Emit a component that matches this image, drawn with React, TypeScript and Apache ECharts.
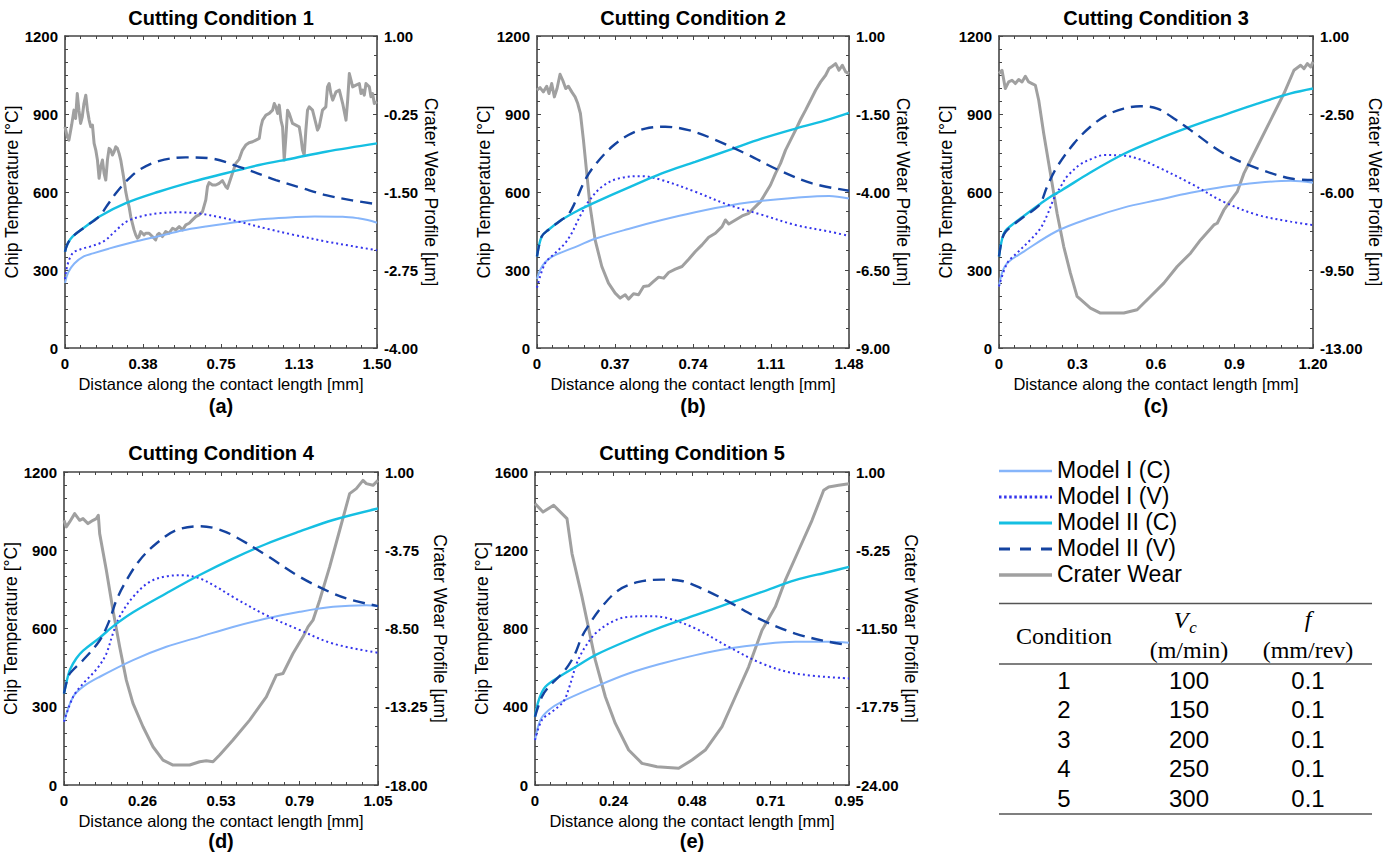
import React, { useEffect, useRef } from "react";
import * as echarts from "echarts";

type Pt = [number, number];

// ---------------- Panel (a): Cutting Condition 1 ----------------
const c1ModelIC: Pt[] = [[0, 250], [0.015, 290], [0.045, 325], [0.09, 352], [0.135, 364], [0.21, 382], [0.33, 408], [0.45, 430], [0.564, 452], [0.675, 467], [0.84, 486], [0.975, 497], [1.095, 503], [1.2, 506], [1.335, 505], [1.41, 499], [1.455, 492], [1.5, 482]];
const c1ModelIV: Pt[] = [[0, 265], [0.012, 320], [0.0375, 365], [0.075, 380], [0.12, 390], [0.165, 402], [0.195, 415], [0.225, 437], [0.2625, 465], [0.3, 488], [0.375, 508], [0.45, 518], [0.54, 522], [0.645, 517], [0.75, 502], [0.84, 485], [0.975, 458], [1.095, 436], [1.26, 409], [1.38, 392], [1.5, 376]];
const c1ModelIIC: Pt[] = [[0, 370], [0.012, 400], [0.036, 428], [0.099, 467], [0.1635, 505], [0.2925, 557], [0.45, 601], [0.615, 640], [0.7725, 672], [0.933, 704], [1.0935, 729], [1.254, 755], [1.5, 787]];
const c1ModelIIV: Pt[] = [[0, 370], [0.012, 400], [0.036, 428], [0.099, 467], [0.1635, 505], [0.2025, 548], [0.2445, 595], [0.2925, 640], [0.3555, 684], [0.45, 719], [0.5805, 733], [0.693, 730], [0.837, 697], [1.014, 646], [1.14, 615], [1.254, 588], [1.38, 568], [1.5, 553]];
const c1Crater: Pt[] = [[0, -0.455], [0.011, -0.615], [0.019, -0.668], [0.032, -0.428], [0.043, -0.188], [0.051, -0.321], [0.059, 0.078], [0.067, -0.188], [0.075, -0.401], [0.083, -0.295], [0.091, -0.082], [0.1, 0.052], [0.108, -0.188], [0.116, -0.348], [0.124, -0.455], [0.132, -0.428], [0.14, -0.721], [0.148, -0.828], [0.156, -0.988], [0.164, -1.281], [0.172, -1.094], [0.18, -0.988], [0.188, -1.201], [0.196, -1.308], [0.204, -0.988], [0.212, -0.801], [0.22, -0.828], [0.228, -0.908], [0.236, -0.855], [0.244, -0.775], [0.252, -0.801], [0.26, -0.881], [0.268, -0.988], [0.276, -1.148], [0.284, -1.308], [0.292, -1.494], [0.3, -1.627], [0.308, -1.734], [0.316, -1.894], [0.324, -2.001], [0.332, -2.107], [0.34, -2.187], [0.348, -2.24], [0.356, -2.214], [0.364, -2.134], [0.372, -2.161], [0.38, -2.187], [0.388, -2.161], [0.404, -2.161], [0.42, -2.214], [0.436, -2.267], [0.444, -2.187], [0.452, -2.161], [0.468, -2.214], [0.484, -2.134], [0.5, -2.161], [0.517, -2.081], [0.533, -2.107], [0.549, -2.054], [0.565, -2.107], [0.581, -2.027], [0.597, -2.001], [0.613, -1.947], [0.629, -1.894], [0.645, -1.867], [0.661, -1.814], [0.677, -1.627], [0.685, -1.414], [0.693, -1.35], [0.709, -1.388], [0.725, -1.388], [0.741, -1.361], [0.757, -1.318], [0.773, -1.414], [0.781, -1.441], [0.789, -1.361], [0.805, -1.201], [0.821, -1.041], [0.837, -0.977], [0.853, -0.828], [0.869, -0.748], [0.885, -0.711], [0.902, -0.695], [0.918, -0.668], [0.934, -0.641], [0.942, -0.455], [0.95, -0.348], [0.966, -0.268], [0.982, -0.241], [0.998, -0.188], [1.006, -0.082], [1.014, -0.135], [1.022, -0.241], [1.03, -0.108], [1.038, -0.348], [1.046, -0.455], [1.054, -0.988], [1.062, -0.615], [1.07, -0.188], [1.078, -0.241], [1.094, -0.401], [1.11, -0.428], [1.126, -0.455], [1.134, -0.615], [1.142, -0.828], [1.15, -0.908], [1.158, -0.508], [1.166, -0.188], [1.174, -0.135], [1.19, -0.188], [1.206, -0.401], [1.214, -0.508], [1.222, -0.455], [1.238, -0.188], [1.254, -0.135], [1.262, 0.185], [1.27, 0.238], [1.278, 0.078], [1.287, -0.028], [1.303, 0.105], [1.319, 0.132], [1.335, -0.082], [1.351, -0.348], [1.359, -0.028], [1.367, 0.398], [1.375, 0.292], [1.383, 0.185], [1.399, 0.212], [1.415, 0.238], [1.423, 0.078], [1.431, 0.132], [1.439, 0.052], [1.447, 0.238], [1.463, 0.185], [1.471, 0.025], [1.479, 0.078], [1.487, -0.082], [1.5, -0.055]];

// ---------------- Panel (b): Cutting Condition 2 ----------------
const c2ModelIC: Pt[] = [[0, 265], [0.0148, 300], [0.0385, 330], [0.074, 352], [0.1169, 368], [0.1924, 392], [0.2753, 420], [0.4336, 458], [0.592, 492], [0.7504, 522], [0.9265, 550], [1.0686, 566], [1.2269, 578], [1.3853, 585], [1.48, 575]];
const c2ModelIV: Pt[] = [[0, 232], [0.0385, 326], [0.0858, 365], [0.1332, 403], [0.1643, 441], [0.1865, 478], [0.2116, 518], [0.2442, 563], [0.3078, 620], [0.3863, 652], [0.4973, 661], [0.592, 646], [0.7504, 601], [0.9102, 550], [1.0686, 512], [1.2269, 473], [1.3853, 448], [1.48, 431]];
const c2ModelIIC: Pt[] = [[0, 352], [0.0222, 429], [0.0533, 454], [0.1169, 493], [0.1968, 530], [0.2753, 560], [0.4336, 617], [0.592, 672], [0.7504, 716], [0.9102, 761], [1.0686, 806], [1.2269, 844], [1.3853, 879], [1.48, 904]];
const c2ModelIIV: Pt[] = [[0, 352], [0.0222, 429], [0.0533, 454], [0.1169, 493], [0.148, 512], [0.1806, 560], [0.2279, 646], [0.2753, 704], [0.3552, 774], [0.4336, 819], [0.5136, 844], [0.6083, 851], [0.7193, 838], [0.8303, 806], [0.9886, 748], [1.147, 684], [1.3054, 633], [1.48, 605]];
const c2Crater: Pt[] = [[0, -0.738], [0.0143, -0.652], [0.0301, -0.791], [0.046, -0.61], [0.057, -0.844], [0.0697, -0.524], [0.0824, -0.951], [0.0951, -0.684], [0.1093, -0.226], [0.122, -0.418], [0.1363, -0.684], [0.149, -0.61], [0.1648, -0.791], [0.1807, -0.951], [0.1933, -1.164], [0.206, -1.484], [0.2203, -2.337], [0.2361, -3.403], [0.252, -4.469], [0.2757, -5.535], [0.3074, -6.388], [0.3391, -6.921], [0.3708, -7.241], [0.3946, -7.401], [0.4183, -7.294], [0.4342, -7.433], [0.4579, -7.262], [0.4817, -7.294], [0.5055, -7.028], [0.5293, -7.006], [0.553, -6.868], [0.5768, -6.729], [0.6006, -6.761], [0.6244, -6.58], [0.6561, -6.473], [0.6878, -6.388], [0.7195, -6.154], [0.7512, -5.908], [0.7828, -5.695], [0.8145, -5.45], [0.8462, -5.322], [0.8779, -5.109], [0.8938, -4.896], [0.9096, -5.023], [0.9413, -4.896], [0.973, -4.768], [1.0047, -4.682], [1.0363, -4.469], [1.0601, -4.309], [1.0839, -4.043], [1.1076, -3.776], [1.1314, -3.403], [1.1552, -3.083], [1.1789, -2.657], [1.2027, -2.337], [1.2265, -2.017], [1.2503, -1.676], [1.274, -1.377], [1.2978, -1.058], [1.3216, -0.738], [1.3453, -0.471], [1.3691, -0.258], [1.3849, -0.045], [1.4008, 0.03], [1.4166, 0.115], [1.4325, -0.098], [1.4483, 0.062], [1.4642, -0.151], [1.48, -0.205]];

// ---------------- Panel (c): Cutting Condition 3 ----------------
const c3ModelIC: Pt[] = [[0, 237], [0.012, 290], [0.0312, 326], [0.0948, 371], [0.222, 450], [0.3492, 500], [0.4764, 540], [0.6048, 569], [0.732, 597], [0.8592, 620], [0.9876, 636], [1.1148, 643], [1.2, 636]];
const c3ModelIV: Pt[] = [[0, 237], [0.0312, 326], [0.0684, 365], [0.12, 416], [0.1584, 460], [0.1836, 510], [0.21, 575], [0.24, 628], [0.2604, 660], [0.3108, 706], [0.36, 730], [0.4008, 742], [0.4764, 740], [0.54, 725], [0.6048, 697], [0.732, 633], [0.8592, 562], [0.9876, 512], [1.1148, 486], [1.2, 473]];
const c3ModelIIC: Pt[] = [[0, 352], [0.012, 420], [0.024, 450], [0.048, 472], [0.0948, 508], [0.1584, 555], [0.1968, 582], [0.24, 607], [0.3492, 675], [0.4764, 746], [0.6, 800], [0.732, 851], [0.8592, 896], [0.9876, 940], [1.1148, 979], [1.2, 998]];
const c3ModelIIV: Pt[] = [[0, 352], [0.012, 420], [0.024, 445], [0.048, 468], [0.0948, 505], [0.132, 531], [0.1584, 556], [0.1836, 620], [0.222, 697], [0.2868, 787], [0.3492, 851], [0.4128, 896], [0.4764, 921], [0.54, 930], [0.6048, 921], [0.6684, 883], [0.732, 838], [0.8592, 748], [0.9876, 691], [1.1148, 652], [1.2, 646]];
const c3Crater: Pt[] = [[0, -0.687], [0.0115, -0.537], [0.0242, -1.358], [0.037, -1.06], [0.0497, -0.985], [0.0625, -1.134], [0.0752, -0.955], [0.088, -1.06], [0.1007, -0.806], [0.1135, -1.06], [0.1262, -1.134], [0.139, -1.209], [0.1518, -1.881], [0.1709, -3.373], [0.1964, -5.164], [0.2219, -6.955], [0.2474, -8.448], [0.2729, -9.642], [0.2984, -10.687], [0.3494, -11.209], [0.3877, -11.433], [0.4769, -11.433], [0.5279, -11.284], [0.5789, -10.687], [0.63, -10.09], [0.681, -9.343], [0.732, -8.746], [0.7702, -8.149], [0.8212, -7.478], [0.834, -7.403], [0.8595, -6.806], [0.9105, -5.985], [0.936, -5.164], [0.987, -3.97], [1.038, -2.776], [1.089, -1.582], [1.1273, -0.537], [1.1528, -0.313], [1.1656, -0.463], [1.1783, -0.239], [1.1911, -0.388], [1.2, -0.164]];

// ---------------- Panel (d): Cutting Condition 4 ----------------
const c4ModelIC: Pt[] = [[0, 243], [0.0305, 338], [0.064, 377], [0.1197, 415], [0.231, 479], [0.3423, 530], [0.4536, 568], [0.5649, 606], [0.6762, 638], [0.7886, 664], [0.8999, 683], [1.0112, 689], [1.05, 685]];
const c4ModelIV: Pt[] = [[0, 243], [0.0305, 338], [0.064, 389], [0.0966, 428], [0.1197, 460], [0.1418, 504], [0.1638, 581], [0.1859, 645], [0.231, 721], [0.2867, 779], [0.3423, 800], [0.398, 804], [0.4536, 792], [0.5093, 760], [0.5649, 721], [0.6762, 651], [0.7886, 594], [0.8999, 542], [1.05, 507]];
const c4ModelIIC: Pt[] = [[0, 351], [0.0137, 420], [0.021, 445], [0.041, 485], [0.064, 515], [0.1197, 565], [0.1638, 608], [0.231, 662], [0.3423, 735], [0.4536, 805], [0.5649, 868], [0.6762, 924], [0.7886, 972], [0.8999, 1016], [1.05, 1060]];
const c4ModelIIV: Pt[] = [[0, 351], [0.0137, 415], [0.0252, 435], [0.064, 479], [0.1197, 555], [0.1523, 632], [0.1754, 709], [0.209, 785], [0.2531, 862], [0.3087, 926], [0.3759, 977], [0.4536, 992], [0.5093, 983], [0.5649, 957], [0.6762, 881], [0.7886, 798], [0.8999, 734], [0.966, 708], [1.05, 686]];
const c4Crater: Pt[] = [[0, -1.931], [0.0078, -2.335], [0.0189, -2.032], [0.0357, -1.527], [0.0524, -1.931], [0.0635, -1.83], [0.0803, -2.133], [0.097, -1.931], [0.1081, -1.83], [0.1148, -1.628], [0.1193, -2.74], [0.1416, -4.963], [0.1638, -7.389], [0.1861, -9.612], [0.2084, -11.634], [0.2307, -13.049], [0.2642, -14.464], [0.2976, -15.677], [0.331, -16.485], [0.3645, -16.788], [0.4202, -16.788], [0.4536, -16.586], [0.4759, -16.526], [0.4982, -16.586], [0.5205, -16.182], [0.5651, -15.272], [0.6208, -14.06], [0.6766, -12.645], [0.71, -11.331], [0.7323, -11.23], [0.7657, -10.017], [0.7992, -9.006], [0.8159, -8.4], [0.8326, -7.995], [0.8549, -6.783], [0.8883, -4.761], [0.9218, -2.537], [0.9552, -0.314], [0.9775, -0.011], [0.9998, 0.495], [1.011, 0.293], [1.0332, 0.191], [1.05, 0.495]];

// ---------------- Panel (e): Cutting Condition 5 ----------------
const c5ModelIC: Pt[] = [[0, 230], [0.0162, 332], [0.0418, 383], [0.0817, 426], [0.1824, 502], [0.2831, 570], [0.3838, 621], [0.4855, 664], [0.5862, 698], [0.6869, 720], [0.7876, 732], [0.8883, 732], [0.95, 727]];
const c5ModelIV: Pt[] = [[0, 230], [0.0209, 332], [0.0513, 374], [0.0817, 417], [0.0922, 445], [0.1017, 490], [0.1121, 545], [0.1216, 600], [0.133, 648], [0.152, 706], [0.1824, 774], [0.2328, 834], [0.2831, 860], [0.3544, 863], [0.4047, 851], [0.4855, 800], [0.5862, 706], [0.6869, 621], [0.7876, 570], [0.95, 545]];
const c5ModelIIC: Pt[] = [[0, 349], [0.0114, 434], [0.0314, 502], [0.0817, 562], [0.1321, 613], [0.1824, 664], [0.2831, 740], [0.3838, 808], [0.4855, 868], [0.5862, 928], [0.6869, 987], [0.7876, 1047], [0.8883, 1089], [0.95, 1115]];
const c5ModelIIV: Pt[] = [[0, 349], [0.0209, 451], [0.0418, 502], [0.0817, 570], [0.1017, 613], [0.1216, 672], [0.1416, 757], [0.1625, 817], [0.2024, 911], [0.2527, 996], [0.3135, 1038], [0.3838, 1050], [0.4446, 1043], [0.5054, 1004], [0.5862, 936], [0.6869, 843], [0.7876, 774], [0.8883, 732], [0.95, 715]];
const c5Crater: Pt[] = [[0, -1.527], [0.0242, -2.191], [0.0565, -1.66], [0.0968, -2.723], [0.1119, -5.516], [0.1422, -8.973], [0.1825, -14.027], [0.2128, -16.952], [0.243, -19.08], [0.2834, -21.207], [0.3237, -22.271], [0.3691, -22.537], [0.4347, -22.67], [0.475, -22.005], [0.5153, -21.207], [0.5658, -19.346], [0.6061, -16.952], [0.6465, -14.559], [0.6868, -11.633], [0.7271, -9.771], [0.7574, -7.644], [0.7977, -5.25], [0.8381, -2.856], [0.8734, -0.463], [0.8885, -0.197], [0.9187, -0.064], [0.95, 0.069]];

// ---------------- Axes / labels ----------------
const panelTitles = ["Cutting Condition 1", "Cutting Condition 2", "Cutting Condition 3", "Cutting Condition 4", "Cutting Condition 5"];
const panelCaptions = ["(a)", "(b)", "(c)", "(d)", "(e)"];
const xMaxes = [1.5, 1.48, 1.2, 1.05, 0.95];
const xTickLabels = [
  ["0", "0.38", "0.75", "1.13", "1.50"],
  ["0", "0.37", "0.74", "1.11", "1.48"],
  ["0", "0.3", "0.6", "0.9", "1.20"],
  ["0", "0.26", "0.53", "0.79", "1.05"],
  ["0", "0.24", "0.48", "0.71", "0.95"],
];
const tempMaxes = [1200, 1200, 1200, 1200, 1600];
const tempTickLabels = [
  ["0", "300", "600", "900", "1200"],
  ["0", "300", "600", "900", "1200"],
  ["0", "300", "600", "900", "1200"],
  ["0", "300", "600", "900", "1200"],
  ["0", "400", "800", "1200", "1600"],
];
const wearMax = 1;
const wearMins = [-4, -9, -13, -18, -24];
const wearTickLabels = [
  ["-4.00", "-2.75", "-1.50", "-0.25", "1.00"],
  ["-9.00", "-6.50", "-4.00", "-1.50", "1.00"],
  ["-13.00", "-9.50", "-6.00", "-2.50", "1.00"],
  ["-18.00", "-13.25", "-8.50", "-3.75", "1.00"],
  ["-24.00", "-17.75", "-11.50", "-5.25", "1.00"],
];
const xAxisTitle = "Distance along the contact length [mm]";
const leftAxisTitle = "Chip Temperature [°C]";
const rightAxisTitle = "Crater Wear Profile [µm]";
const seriesNames = ["Model I (C)", "Model I (V)", "Model II (C)", "Model II (V)", "Crater Wear"];

// ---------------- Table ----------------
const tableConditions = ["1", "2", "3", "4", "5"];
const tableVc = ["100", "150", "200", "250", "300"];
const tableFeed = ["0.1", "0.1", "0.1", "0.1", "0.1"];

const modelData: Pt[][][] = [
  [c1ModelIC, c1ModelIV, c1ModelIIC, c1ModelIIV],
  [c2ModelIC, c2ModelIV, c2ModelIIC, c2ModelIIV],
  [c3ModelIC, c3ModelIV, c3ModelIIC, c3ModelIIV],
  [c4ModelIC, c4ModelIV, c4ModelIIC, c4ModelIIV],
  [c5ModelIC, c5ModelIV, c5ModelIIC, c5ModelIIV],
];
const craterData: Pt[][] = [c1Crater, c2Crater, c3Crater, c4Crater, c5Crater];

// ---------------- Layout & style ----------------
const LAYOUT = [
  { left: 65, top: 36, width: 312, height: 312, titleY: 18, captionY: 406 },
  { left: 537, top: 36, width: 312, height: 312, titleY: 18, captionY: 406 },
  { left: 999, top: 36, width: 314, height: 312, titleY: 18, captionY: 406 },
  { left: 64, top: 472, width: 314, height: 313, titleY: 453, captionY: 841 },
  { left: 535, top: 472, width: 314, height: 313, titleY: 453, captionY: 841 },
];
const SANS = "'Liberation Sans', Arial, Helvetica, sans-serif";
const SERIF = "'Liberation Serif', 'Times New Roman', serif";
const AXIS_COLOR = "#454545";
const LINE_STYLES = [
  { color: "#86b5fa", width: 2, type: "solid" as any, legendWidth: 2.7, legendDash: null as any },
  { color: "#3535ec", width: 2, type: [2, 3] as any, legendWidth: 2.8, legendDash: [2.5, 2.6] },
  { color: "#15bfe2", width: 2.4, type: "solid" as any, legendWidth: 3, legendDash: null as any },
  { color: "#1443a0", width: 2.4, type: [12, 7] as any, legendWidth: 3, legendDash: [11, 10] },
  { color: "#a0a0a0", width: 3, type: "solid" as any, legendWidth: 3.4, legendDash: null as any },
];

function buildOption(): any {
  const grid: any[] = [];
  const xAxis: any[] = [];
  const yAxis: any[] = [];
  const series: any[] = [];
  const graphic: any[] = [];

  const axisLine = { show: true, onZero: false, lineStyle: { color: AXIS_COLOR, width: 1.6 } };
  const axisTick = { show: true, inside: true, length: 4, lineStyle: { color: AXIS_COLOR, width: 1 } };
  const minorTick = (n: number) => ({ show: true, splitNumber: n, length: 3, lineStyle: { color: AXIS_COLOR, width: 1 } });
  const labelStyle = { fontSize: 15, fontWeight: "bold", color: "#000", fontFamily: SANS };

  LAYOUT.forEach((g, i) => {
    grid.push({ left: g.left, top: g.top, width: g.width, height: g.height, show: false, containLabel: false, outerBoundsMode: "none" });
    const xMax = xMaxes[i];
    const xStep = xMax / 4;
    const tMax = tempMaxes[i];
    const tStep = tMax / 4;
    const wMin = wearMins[i];
    const wStep = (wearMax - wMin) / 4;

    xAxis.push({
      type: "value", gridIndex: i, position: "bottom", min: 0, max: xMax, interval: xStep,
      axisLine, axisTick, minorTick: minorTick(5), splitLine: { show: false },
      axisLabel: { ...labelStyle, margin: 8, showMinLabel: true, showMaxLabel: true,
        formatter: (v: number) => xTickLabels[i][Math.round(v / xStep)] ?? "" },
      name: xAxisTitle, nameLocation: "middle", nameGap: 27,
      nameTextStyle: { fontSize: 16.5, color: "#000", fontFamily: SANS },
    });
    xAxis.push({
      type: "value", gridIndex: i, position: "top", min: 0, max: xMax, interval: xStep,
      axisLine, axisTick, minorTick: minorTick(5), splitLine: { show: false },
      axisLabel: { show: false },
    });
    yAxis.push({
      type: "value", gridIndex: i, position: "left", min: 0, max: tMax, interval: tStep,
      axisLine, axisTick, minorTick: minorTick(6), splitLine: { show: false },
      axisLabel: { ...labelStyle, margin: 7, showMinLabel: true, showMaxLabel: true,
        formatter: (v: number) => tempTickLabels[i][Math.round(v / tStep)] ?? "" },
      name: leftAxisTitle, nameLocation: "middle", nameGap: 37, nameRotate: 90,
      nameTextStyle: { fontSize: 17.5, color: "#000", fontFamily: SANS },
    });
    yAxis.push({
      type: "value", gridIndex: i, position: "right", min: wMin, max: wearMax, alignTicks: true,
      axisLine, axisTick, minorTick: minorTick(4), splitLine: { show: false },
      axisLabel: { ...labelStyle, margin: 7, showMinLabel: true, showMaxLabel: true,
        formatter: (v: number) => wearTickLabels[i][Math.round((v - wMin) / wStep)] ?? "" },
      name: rightAxisTitle, nameLocation: "middle", nameGap: 45, nameRotate: -90,
      nameTextStyle: { fontSize: 17.5, color: "#000", fontFamily: SANS },
    });

    const ls = LINE_STYLES[4];
    series.push({
      type: "line", name: seriesNames[4], xAxisIndex: 2 * i, yAxisIndex: 2 * i + 1,
      data: craterData[i], showSymbol: false, symbol: "none", smooth: false,
      lineStyle: { color: ls.color, width: ls.width, type: ls.type, join: "round" }, z: 2,
    });
    modelData[i].forEach((d, k) => {
      const s = LINE_STYLES[k];
      series.push({
        type: "line", name: seriesNames[k], xAxisIndex: 2 * i, yAxisIndex: 2 * i,
        data: d, showSymbol: false, symbol: "none", smooth: 0.35,
        lineStyle: { color: s.color, width: s.width, type: s.type, cap: "butt" }, z: 3 + k,
      });
    });

    const cx = g.left + g.width / 2;
    graphic.push({ type: "text", x: cx, y: g.titleY, style: { text: panelTitles[i], fontSize: 20, fontWeight: "bold", fontFamily: SANS, fill: "#000", align: "center", verticalAlign: "middle" } });
    graphic.push({ type: "text", x: cx, y: g.captionY, style: { text: panelCaptions[i], fontSize: 20, fontWeight: "bold", fontFamily: SANS, fill: "#000", align: "center", verticalAlign: "middle" } });
  });

  // Legend (drawn)
  const legendRows = [471, 497, 523, 549, 575];
  seriesNames.forEach((name, k) => {
    const s = LINE_STYLES[k];
    const y = legendRows[k];
    graphic.push({ type: "line", shape: { x1: 999, y1: y, x2: 1052, y2: y }, style: { stroke: s.color, lineWidth: s.legendWidth, lineDash: s.legendDash || undefined } });
    graphic.push({ type: "text", x: 1057, y: y - 1, style: { text: name, fontSize: 23, fontFamily: SANS, fill: "#000", align: "left", verticalAlign: "middle" } });
  });

  // Table
  const ruleStyle = { stroke: "#555", lineWidth: 1.5 };
  graphic.push({ type: "line", shape: { x1: 999, y1: 603.5, x2: 1372, y2: 603.5 }, style: ruleStyle });
  graphic.push({ type: "line", shape: { x1: 999, y1: 664, x2: 1372, y2: 664 }, style: ruleStyle });
  graphic.push({ type: "line", shape: { x1: 999, y1: 814, x2: 1372, y2: 814 }, style: ruleStyle });
  const colX = [1064, 1189, 1308];
  graphic.push({ type: "text", x: colX[0], y: 636, style: { text: "Condition", fontSize: 24, fontFamily: SERIF, fill: "#000", align: "center", verticalAlign: "middle" } });
  graphic.push({ type: "text", x: 1181, y: 620, style: { text: "V", fontSize: 24, fontStyle: "italic", fontFamily: SERIF, fill: "#000", align: "center", verticalAlign: "middle" } });
  graphic.push({ type: "text", x: 1193, y: 627, style: { text: "c", fontSize: 17, fontStyle: "italic", fontFamily: SERIF, fill: "#000", align: "center", verticalAlign: "middle" } });
  graphic.push({ type: "text", x: colX[1], y: 650, style: { text: "(m/min)", fontSize: 24, fontFamily: SERIF, fill: "#000", align: "center", verticalAlign: "middle" } });
  graphic.push({ type: "text", x: colX[2], y: 619, style: { text: "f", fontSize: 24, fontStyle: "italic", fontFamily: SERIF, fill: "#000", align: "center", verticalAlign: "middle" } });
  graphic.push({ type: "text", x: colX[2], y: 650, style: { text: "(mm/rev)", fontSize: 24, fontFamily: SERIF, fill: "#000", align: "center", verticalAlign: "middle" } });
  const rowY = [680, 709.5, 739, 768.5, 798];
  tableConditions.forEach((c, r) => {
    [c, tableVc[r], tableFeed[r]].forEach((t, ci) => {
      graphic.push({ type: "text", x: colX[ci], y: rowY[r], style: { text: t, fontSize: 24, fontFamily: SANS, fill: "#000", align: "center", verticalAlign: "middle" } });
    });
  });

  return {
    animation: false,
    backgroundColor: "#ffffff",
    textStyle: { fontFamily: SANS },
    grid, xAxis, yAxis, series, graphic,
  };
}

export default function App() {
  const ref = useRef<HTMLDivElement>(null);
  useEffect(() => {
    if (!ref.current) return;
    const chart = echarts.init(ref.current, undefined, { renderer: "svg" });
    chart.setOption(buildOption());
    return () => chart.dispose();
  }, []);
  return <div ref={ref} style={{ position: "fixed", left: 0, top: 0, width: 1386, height: 852, background: "#fff" }} />;
}
